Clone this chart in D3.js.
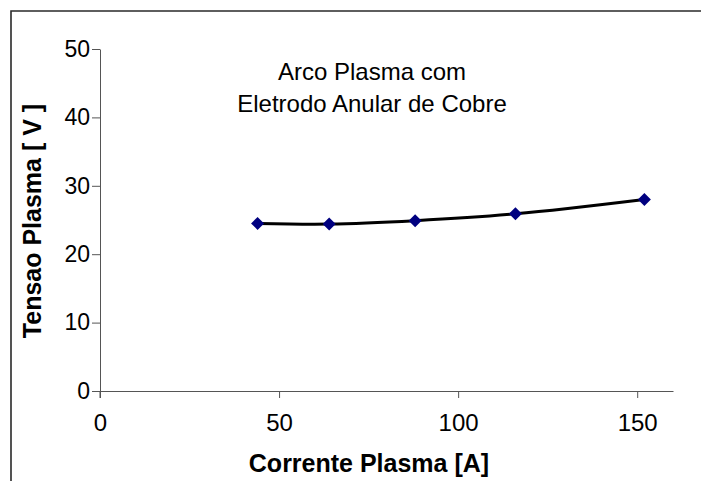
<!DOCTYPE html>
<html>
<head>
<meta charset="utf-8">
<script src="https://cdn.jsdelivr.net/npm/d3@7"></script>
<style>
  html, body { margin: 0; padding: 0; background: #fff; overflow: hidden; }
  svg { display: block; font-family: "Liberation Sans", Arial, sans-serif; }
</style>
</head>
<body>
<svg id="chart" width="701" height="481"></svg>
<script>
// Plasma arc: current vs. voltage
const current = [44, 64, 88, 116, 152];          // A
const voltage = [24.5, 24.4, 24.9, 25.9, 28.0];  // V
const xTicks = [0, 50, 100, 150];
const yTicks = [0, 10, 20, 30, 40, 50];
const titleLines = ["Arco Plasma com", "Eletrodo Anular de Cobre"];
const xTitle = "Corrente Plasma [A]";
const yTitle = "Tensao Plasma [ V ]";

const svg = d3.select("#chart");

// white page background
svg.append("rect")
  .attr("x", 0).attr("y", 0).attr("width", 701).attr("height", 481)
  .attr("fill", "#fff");

// outer chart frame: top and left edges
svg.append("path")
  .attr("d", "M11,481V11H701")
  .attr("fill", "none").attr("stroke", "#2a2a2a").attr("stroke-width", 1.6);

const x = d3.scaleLinear().domain([0, 160]).range([100, 673]);
const y = d3.scaleLinear().domain([0, 50]).range([391, 49]);

const axisColor = "#555";

// x axis
const gx = svg.append("g").attr("transform", `translate(0,${y(0)})`)
  .call(d3.axisBottom(x).tickValues(xTicks).tickSize(7).tickSizeOuter(0).tickPadding(16));
gx.select(".domain").attr("stroke", axisColor);
gx.selectAll(".tick line").attr("stroke", axisColor);
gx.selectAll(".tick text").attr("font-size", 24).attr("fill", "#000")
  .attr("font-family", "Liberation Sans, Arial, sans-serif");

// y axis
const gy = svg.append("g").attr("transform", `translate(${x(0)},0)`)
  .call(d3.axisLeft(y).tickValues(yTicks).tickSize(8).tickSizeOuter(0).tickPadding(2));
gy.select(".domain").attr("stroke", axisColor);
gy.selectAll(".tick line").attr("stroke", axisColor);
gy.selectAll(".tick text").attr("font-size", 23).attr("fill", "#000")
  .attr("font-family", "Liberation Sans, Arial, sans-serif");

// y axis continues below the x axis as the crossing tick
svg.append("line")
  .attr("x1", x(0)).attr("x2", x(0))
  .attr("y1", y(0)).attr("y2", y(0) + 7)
  .attr("stroke", axisColor);

// axis titles
svg.append("text")
  .attr("x", 369).attr("y", 472)
  .attr("text-anchor", "middle")
  .attr("font-size", 25).attr("font-weight", "bold")
  .text(xTitle);

svg.append("text")
  .attr("transform", "translate(41,221) rotate(-90)")
  .attr("text-anchor", "middle")
  .attr("font-size", 25).attr("font-weight", "bold")
  .text(yTitle);

// chart title
svg.append("g").selectAll("text").data(titleLines).join("text")
  .attr("x", 372)
  .attr("y", (d, i) => 80 + i * 32)
  .attr("text-anchor", "middle")
  .attr("font-size", 24)
  .text(d => d);

// data series
const pts = current.map((c, i) => [c, voltage[i]]);

svg.append("path")
  .datum(pts)
  .attr("fill", "none")
  .attr("stroke", "#000")
  .attr("stroke-width", 3)
  .attr("d", d3.line().x(d => x(d[0])).y(d => y(d[1])).curve(d3.curveCatmullRom.alpha(0.5)));

svg.append("g").selectAll("path").data(pts).join("path")
  .attr("transform", d => `translate(${x(d[0])},${y(d[1])})`)
  .attr("d", "M0,-6.5L6.5,0L0,6.5L-6.5,0Z")
  .attr("fill", "#000080");
</script>
</body>
</html>
